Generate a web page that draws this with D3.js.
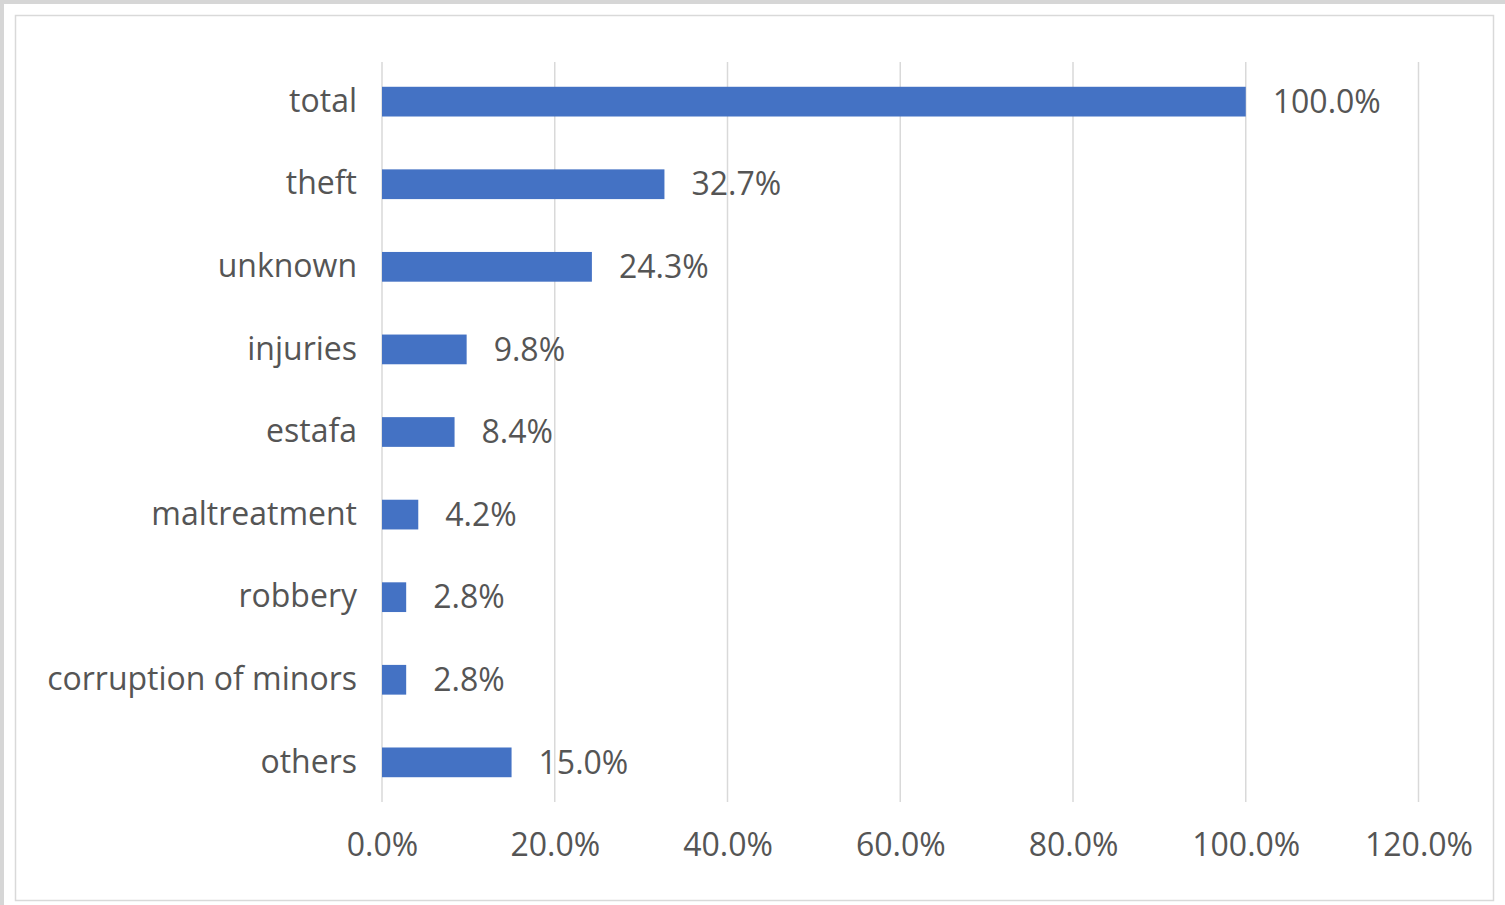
<!DOCTYPE html>
<html>
<head>
<meta charset="utf-8">
<script src="https://cdn.jsdelivr.net/npm/d3@7"></script>
<style>
  html, body { margin: 0; padding: 0; background: #fff; }
  svg text { font-family: "Open Sans", "Noto Sans", sans-serif; fill: #555; }
</style>
</head>
<body>
<svg id="chart" width="1505" height="905"></svg>
<script>
// categories top to bottom, share in percent
const categories = ["total", "theft", "unknown", "injuries", "estafa", "maltreatment", "robbery", "corruption of minors", "others"]
const values = [100.0, 32.7, 24.3, 9.8, 8.4, 4.2, 2.8, 2.8, 15.0]
const ticks = [0, 20, 40, 60, 80, 100, 120]

const data = categories.map((c, i) => ({ cat: c, val: values[i] }))

const svg = d3.select('#chart')
const width = 1505, height = 905
const margin = ({ top: 62, right: 86, bottom: 103, left: 382 })
const fontSize = 32

// outer grey frame + inner chart border
svg.append('rect').attr('x', 0).attr('y', 0).attr('width', width).attr('height', height).attr('fill', '#d6d6d6')
svg.append('rect').attr('x', 4).attr('y', 4).attr('width', width - 4).attr('height', height - 4).attr('fill', '#fff')
svg.append('rect')
    .attr('x', 15.5).attr('y', 15.5)
    .attr('width', 1478).attr('height', 885)
    .attr('fill', 'none').attr('stroke', '#d9d9d9').attr('stroke-width', 1.5)

const x = d3.scaleLinear()
    .domain([0, 120])
    .range([margin.left, width - margin.right - 0.5])

const y = d3.scaleBand()
    .domain(categories)
    .range([margin.top, height - margin.bottom])
    .paddingInner(0.64)
    .paddingOuter(0.3)

// gridlines
svg.append('g')
    .selectAll('line')
    .data(ticks)
    .join('line')
        .attr('x1', d => x(d)).attr('x2', d => x(d))
        .attr('y1', margin.top).attr('y2', height - margin.bottom)
        .attr('stroke', '#d9d9d9').attr('stroke-width', 1.5)

// x tick labels
const xAxis = g => g
    .attr('transform', `translate(0,${height - margin.bottom})`)
    .call(d3.axisBottom(x).tickValues(ticks).tickFormat(d => d.toFixed(1) + '%').tickSize(0).tickPadding(31))
    .call(g => g.select('.domain').remove())
    .call(g => g.selectAll('text').attr('font-size', fontSize).attr('fill', null).attr('font-family', null))

svg.append('g').call(xAxis)

// category labels
const yAxis = g => g
    .attr('transform', `translate(${margin.left},0)`)
    .call(d3.axisLeft(y).tickSize(0).tickPadding(25))
    .call(g => g.select('.domain').remove())
    .call(g => g.selectAll('text').attr('font-size', fontSize).attr('fill', null).attr('font-family', null))

svg.append('g').call(yAxis)

// bars
svg.append('g')
    .attr('fill', '#4472c4')
    .selectAll('rect')
    .data(data)
    .join('rect')
        .attr('x', x(0))
        .attr('y', d => y(d.cat))
        .attr('width', d => x(d.val) - x(0))
        .attr('height', y.bandwidth())

// value labels
svg.append('g')
    .selectAll('text')
    .data(data)
    .join('text')
        .attr('x', d => x(d.val) + 27)
        .attr('y', d => y(d.cat) + y.bandwidth() / 2)
        .attr('dy', '0.35em')
        .attr('font-size', fontSize)
        .text(d => d.val.toFixed(1) + '%')
</script>
</body>
</html>
